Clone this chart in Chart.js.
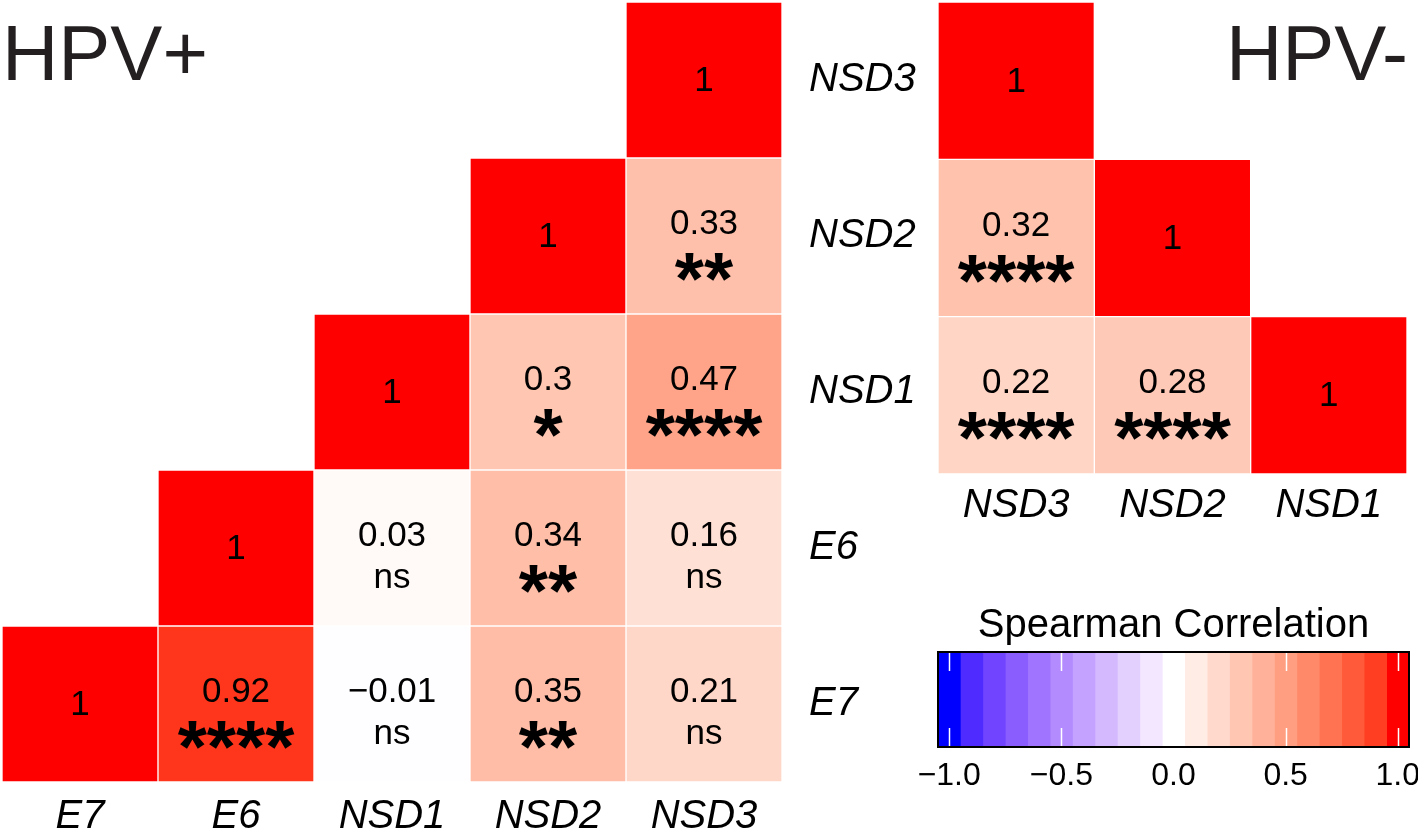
<!DOCTYPE html>
<html>
<head>
<meta charset="utf-8">
<script src="https://cdn.jsdelivr.net/npm/chart.js@4.4.1/dist/chart.umd.min.js"></script>
<style>
  html, body { margin: 0; padding: 0; background: #fff; }
  #wrap { position: relative; width: 1418px; height: 828px; overflow: hidden; }
  canvas { position: absolute; }
</style>
</head>
<body>
<div id="wrap">
  <canvas id="hpvPos" width="930" height="828" style="left:0;top:0"></canvas>
  <canvas id="hpvNeg" width="488" height="540" style="left:930px;top:0"></canvas>
  <canvas id="scaleBar" width="518" height="200" style="left:900px;top:596px"></canvas>
</div>
<script>
// HPV+ : same order on x (left -> right) and on rows (bottom -> top)
const hpvPosVars = ['E7', 'E6', 'NSD1', 'NSD2', 'NSD3'];
const hpvPosR = [
  [1, 0.92, -0.01, 0.35, 0.21],
  [null, 1, 0.03, 0.34, 0.16],
  [null, null, 1, 0.3, 0.47],
  [null, null, null, 1, 0.33],
  [null, null, null, null, 1]
];
const hpvPosSig = [
  ['', '****', 'ns', '**', 'ns'],
  [null, '', 'ns', '**', 'ns'],
  [null, null, '', '*', '****'],
  [null, null, null, '', '**'],
  [null, null, null, null, '']
];

// HPV- : x left -> right, rows top -> bottom
const hpvNegVars = ['NSD3', 'NSD2', 'NSD1'];
const hpvNegR = [
  [1, null, null],
  [0.32, 1, null],
  [0.22, 0.28, 1]
];
const hpvNegSig = [
  ['', null, null],
  ['****', '', null],
  ['****', '****', '']
];

// colour bar
const scaleBands = [-1.0, -0.9, -0.8, -0.7, -0.6, -0.5, -0.4, -0.3, -0.2, -0.1, 0,
                    0.1, 0.2, 0.3, 0.4, 0.5, 0.6, 0.7, 0.8, 0.9, 1.0];
const scaleTicks = [-1, -0.5, 0, 0.5, 1];

const FONT = '"Liberation Sans", Arial, Helvetica, sans-serif';

// blue - white - red, interpolated in Lab like ggplot's gradient2
function toLab(rgb){
  const lin = rgb.map(c => { c /= 255; return c <= 0.04045 ? c / 12.92 : Math.pow((c + 0.055) / 1.055, 2.4); });
  const X = (0.4124*lin[0] + 0.3576*lin[1] + 0.1805*lin[2]) / 0.95047;
  const Y = (0.2126*lin[0] + 0.7152*lin[1] + 0.0722*lin[2]);
  const Z = (0.0193*lin[0] + 0.1192*lin[1] + 0.9505*lin[2]) / 1.08883;
  const f = t => t > 0.008856 ? Math.cbrt(t) : 7.787*t + 16/116;
  return [116*f(Y) - 16, 500*(f(X) - f(Y)), 200*(f(Y) - f(Z))];
}
function fromLab(lab){
  const fy = (lab[0] + 16) / 116, fx = fy + lab[1]/500, fz = fy - lab[2]/200;
  const inv = t => t*t*t > 0.008856 ? t*t*t : (t - 16/116) / 7.787;
  const X = 0.95047*inv(fx), Y = inv(fy), Z = 1.08883*inv(fz);
  const lin = [3.2406*X - 1.5372*Y - 0.4986*Z, -0.9689*X + 1.8758*Y + 0.0415*Z, 0.0557*X - 0.2040*Y + 1.0570*Z];
  const c = lin.map(v => {
    v = Math.max(0, Math.min(1, v));
    v = v <= 0.0031308 ? 12.92*v : 1.055*Math.pow(v, 1/2.4) - 0.055;
    return Math.round(v*255);
  });
  return `rgb(${c[0]},${c[1]},${c[2]})`;
}
const LOW = toLab([0, 0, 255]), MID = [100, 0, 0], HIGH = toLab([255, 0, 0]);
function corrColor(v){
  const end = v < 0 ? LOW : HIGH, t = Math.min(1, Math.abs(v));
  return fromLab(MID.map((m, k) => m + (end[k] - m)*t));
}

// one floating-bar dataset per row
function heatDatasets(vars, R, SIG, rowY){
  return vars.map((name, i) => ({
    label: name,
    data: R[i].map(v => v == null ? null : [rowY(i), rowY(i) + 1]),
    backgroundColor: R[i].map(v => v == null ? 'rgba(0,0,0,0)' : corrColor(v)),
    borderColor: 'rgba(255,255,255,0.55)',
    borderWidth: 1,
    borderSkipped: false,
    grouped: false,
    barPercentage: 1,
    categoryPercentage: 1,
    cellR: R[i],
    cellSig: SIG[i]
  }));
}

function inkText(ctx, s, font, x, yc){
  ctx.save();
  ctx.font = font;
  ctx.fillStyle = '#000';
  ctx.textAlign = 'center';
  ctx.textBaseline = 'alphabetic';
  const m = ctx.measureText(s);
  ctx.fillText(s, x, yc + (m.actualBoundingBoxAscent - m.actualBoundingBoxDescent)/2);
  ctx.restore();
}

const cellText = {
  id: 'cellText',
  afterDatasetsDraw(chart){
    const ctx = chart.ctx;
    chart.data.datasets.forEach((ds, i) => {
      if (!ds.cellR) return;
      chart.getDatasetMeta(i).data.forEach((el, j) => {
        const r = ds.cellR[j];
        if (r == null) return;
        const cx = el.x, cy = (el.y + el.base)/2;
        const sig = ds.cellSig[j];
        const txt = String(r).replace('-', '\u2212');
        if (!sig) { inkText(ctx, txt, '35px ' + FONT, cx, cy - 1); return; }
        inkText(ctx, txt, '35px ' + FONT, cx, cy - 14);
        if (sig === 'ns') inkText(ctx, sig, '35px ' + FONT, cx, cy + 30);
        else inkText(ctx, sig, 'bold 75px ' + FONT, cx, cy + 31);
      });
    });
  }
};

const cornerTitle = {
  id: 'cornerTitle',
  afterDraw(chart, args, opts){
    if (!opts.text) return;
    const ctx = chart.ctx;
    ctx.save();
    ctx.font = '78px ' + FONT;
    ctx.fillStyle = '#231f20';
    ctx.textAlign = opts.align || 'left';
    ctx.textBaseline = 'alphabetic';
    ctx.fillText(opts.text, opts.x, opts.y);
    ctx.restore();
  }
};

const scaleFrame = {
  id: 'scaleFrame',
  afterDatasetsDraw(chart){
    const {ctx, chartArea: a, scales: {x}} = chart;
    ctx.save();
    ctx.strokeStyle = '#fff';
    ctx.lineWidth = 1.5;
    scaleTicks.forEach(t => {
      const px = Math.round(x.getPixelForValue(t)) + 0.5;
      ctx.beginPath();
      ctx.moveTo(px, a.top); ctx.lineTo(px, a.top + 19);
      ctx.moveTo(px, a.bottom - 19); ctx.lineTo(px, a.bottom);
      ctx.stroke();
    });
    ctx.strokeStyle = '#000';
    ctx.lineWidth = 2;
    ctx.strokeRect(a.left, a.top, a.right - a.left, a.bottom - a.top);
    ctx.restore();
  }
};

// fixed axis sizes, no extra room for overhanging tick labels
const fixX = h => s => { s.height = h; s.paddingLeft = 0; s.paddingRight = 0; };
const fixY = w => s => { s.width = w; s.paddingTop = 0; s.paddingBottom = 0; };

const italicLabel = { family: FONT, size: 40, style: 'italic' };

new Chart(document.getElementById('hpvPos'), {
  type: 'bar',
  data: { labels: hpvPosVars, datasets: heatDatasets(hpvPosVars, hpvPosR, hpvPosSig, i => i) },
  options: {
    responsive: false,
    animation: false,
    layout: { padding: { left: 2, top: 2, right: 0, bottom: 0 } },
    plugins: {
      legend: { display: false },
      tooltip: { enabled: false },
      cornerTitle: { text: 'HPV+', x: 2, y: 80, align: 'left' }
    },
    scales: {
      x: {
        grid: { display: false }, border: { display: false },
        ticks: { color: '#000', font: italicLabel, padding: 3, maxRotation: 0, autoSkip: false },
        afterFit: fixX(46)
      },
      y: {
        position: 'right', min: 0, max: 5,
        grid: { display: false }, border: { display: false },
        afterBuildTicks: s => { s.ticks = hpvPosVars.map((_, i) => ({ value: i + 0.5 })); },
        ticks: { color: '#000', font: italicLabel, padding: 19, autoSkip: false,
                 callback: v => hpvPosVars[Math.floor(v)] },
        afterFit: fixY(148)
      }
    }
  },
  plugins: [cellText, cornerTitle]
});

new Chart(document.getElementById('hpvNeg'), {
  type: 'bar',
  data: { labels: hpvNegVars, datasets: heatDatasets(hpvNegVars, hpvNegR, hpvNegSig, i => hpvNegVars.length - 1 - i) },
  options: {
    responsive: false,
    animation: false,
    layout: { padding: { left: 8, top: 2, right: 11, bottom: 0 } },
    plugins: {
      legend: { display: false },
      tooltip: { enabled: false },
      cornerTitle: { text: 'HPV-', x: 478, y: 80, align: 'right' }
    },
    scales: {
      x: {
        grid: { display: false }, border: { display: false },
        ticks: { color: '#000', font: italicLabel, padding: 0, maxRotation: 0, autoSkip: false },
        afterFit: fixX(66)
      },
      y: { display: false, min: 0, max: hpvNegVars.length }
    }
  },
  plugins: [cellText, cornerTitle]
});

new Chart(document.getElementById('scaleBar'), {
  type: 'bar',
  data: {
    labels: [''],
    datasets: scaleBands.map(b => ({
      data: [[b - 0.05, b + 0.05]],
      backgroundColor: corrColor(b),
      borderWidth: 0,
      grouped: false,
      barPercentage: 1,
      categoryPercentage: 1
    }))
  },
  options: {
    indexAxis: 'y',
    responsive: false,
    animation: false,
    layout: { padding: { left: 38, right: 9, top: 0, bottom: 0 } },
    plugins: {
      legend: { display: false },
      tooltip: { enabled: false },
      title: { display: true, text: 'Spearman Correlation', color: '#000',
               font: { family: FONT, size: 40, weight: 'normal' }, padding: { top: 6, bottom: 2 } }
    },
    scales: {
      x: {
        min: -1.05, max: 1.05,
        grid: { display: false }, border: { display: false },
        afterBuildTicks: s => { s.ticks = scaleTicks.map(v => ({ value: v })); },
        ticks: { color: '#000', font: { family: FONT, size: 32 }, padding: 2,
                 callback: v => v.toFixed(1).replace('-', '\u2212') },
        afterFit: fixX(49)
      },
      y: { display: false }
    }
  },
  plugins: [scaleFrame]
});
</script>
</body>
</html>
